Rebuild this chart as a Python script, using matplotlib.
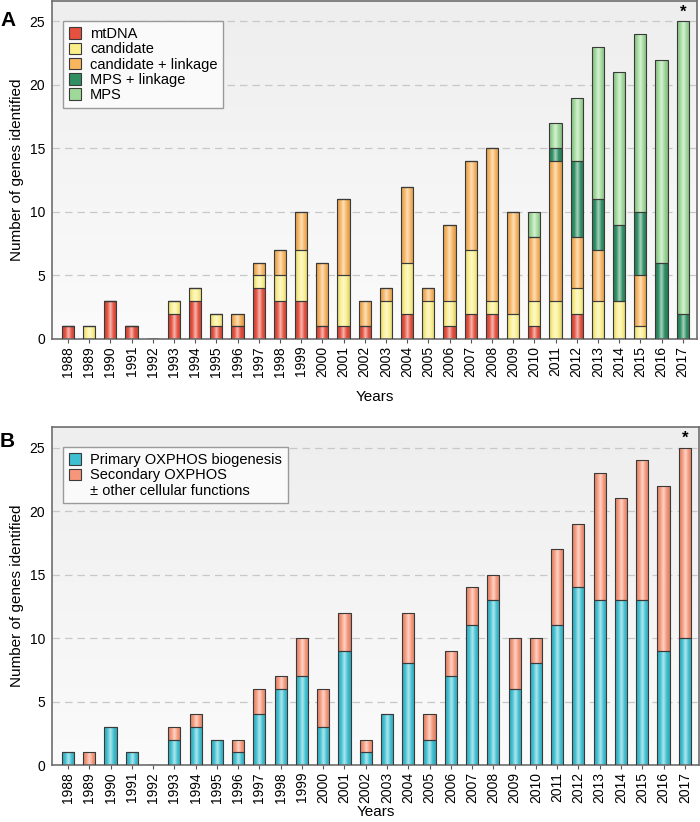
import numpy as np
import matplotlib
matplotlib.use("Agg")
import matplotlib.pyplot as plt
from matplotlib.colors import LinearSegmentedColormap, to_rgb
from matplotlib.patches import Patch

plt.rcParams['font.family'] = ['Liberation Sans', 'DejaVu Sans']

years = [str(y) for y in range(1988, 2018)]

# Panel A
mtdna =      [1,0,3,1,0,2,3,1,1,4,3,3,1,1,1,0,2,0,1,2,2,0,1,0,2,0,0,0,0,0]
candidate =  [0,1,0,0,0,1,1,1,0,1,2,4,0,4,0,3,4,3,2,5,1,2,2,3,2,3,3,1,0,0]
cand_link =  [0,0,0,0,0,0,0,0,1,1,2,3,5,6,2,1,6,1,6,7,12,8,5,11,4,4,0,4,0,0]
mps_link =   [0,0,0,0,0,0,0,0,0,0,0,0,0,0,0,0,0,0,0,0,0,0,0,1,6,4,6,5,6,2]
mps =        [0,0,0,0,0,0,0,0,0,0,0,0,0,0,0,0,0,0,0,0,0,0,2,2,5,12,12,14,16,23]
labels_a = ["mtDNA", "candidate", "candidate + linkage", "MPS + linkage", "MPS"]
colors_a = ["#e5503f", "#fbef8a", "#f8b45e", "#2f8f63", "#9fd99a"]

# Panel B
primary =   [1,0,3,1,0,2,3,2,1,4,6,7,3,9,1,4,8,2,7,11,13,6,8,11,14,13,13,13,9,10]
secondary = [0,1,0,0,0,1,1,0,1,2,1,3,3,3,1,0,4,2,2,3,2,4,2,6,5,10,8,11,13,15]
labels_b = ["Primary OXPHOS biogenesis", "Secondary OXPHOS", "\u00b1 other cellular functions"]
colors_b = ["#3fc0d2", "#f7977a"]

fig = plt.figure(figsize=(7.0, 8.22), dpi=100)
axA = fig.add_axes([0.0743, 0.5876, 0.921, 0.411])
axB = fig.add_axes([0.0743, 0.0693, 0.924, 0.411])

x = np.arange(len(years))
width = 0.57


def shade(ax, container, color):
    base = np.array(to_rgb(color))
    light = base + (1 - base) * 0.6
    dark = base * 0.85
    cmap = LinearSegmentedColormap.from_list("c", [dark, base, light, base, dark])
    grad = np.linspace(0, 1, 64).reshape(1, -1)
    for rect in container:
        h = rect.get_height()
        if h <= 0:
            continue
        x0, y0 = rect.get_x(), rect.get_y()
        im = ax.imshow(grad, extent=[x0, x0 + rect.get_width(), y0, y0 + h],
                       aspect='auto', cmap=cmap, zorder=2, interpolation='bilinear')
        im.set_clip_path(rect)
        rect.set_facecolor('none')


def bg(ax):
    g = np.linspace(0, 1, 100).reshape(-1, 1)
    cm = LinearSegmentedColormap.from_list("bg", ["#fbfbfb", "#eeeeee"])
    ax.imshow(g, extent=[0, 1, 0, 1], transform=ax.transAxes, aspect='auto',
              cmap=cm, origin='lower', zorder=0)


def style(ax, xpad):
    ax.set_xlim(-0.75, len(years) - 1 + 0.66)
    ax.set_ylim(0, 26.6)
    ax.set_yticks([0, 5, 10, 15, 20, 25])
    for yv in [5, 10, 15, 20, 25]:
        ax.axhline(yv, color='#c8c8c8', lw=0.9, ls=(0, (6, 4)), zorder=1)
    ax.set_xticks(x)
    ax.set_xticklabels(years, rotation=90, fontsize=10)
    ax.tick_params(axis='y', labelsize=10, length=0, pad=5)
    ax.tick_params(axis='x', length=3, width=0.8, color='#555555', pad=2)
    for s in ax.spines.values():
        s.set_color('#6e6e6e')
        s.set_linewidth(1.2)
    ax.set_xlabel("Years", fontsize=11, labelpad=xpad)
    ax.set_ylabel("Number of genes identified", fontsize=11, labelpad=4)


def make_legend(ax, handles):
    leg = ax.legend(handles=handles, loc='upper left', bbox_to_anchor=(0.017, 0.94),
                    fontsize=10.5, frameon=True, fancybox=False, edgecolor='#9a9a9a',
                    facecolor='#fafafa', framealpha=1, handlelength=0.85, handleheight=0.85,
                    handletextpad=0.6, labelspacing=0.08, borderpad=0.4, borderaxespad=0)
    leg.set_zorder(5)
    return leg


bg(axA)
bottom = np.zeros(len(years))
handles = []
for vals, lab, col in zip([mtdna, candidate, cand_link, mps_link, mps], labels_a, colors_a):
    cont = axA.bar(x, vals, width, bottom=bottom, color=col, edgecolor='#3a3a3a',
                   linewidth=0.8, zorder=3)
    shade(axA, cont, col)
    bottom += np.array(vals)
    handles.append(Patch(facecolor=col, edgecolor='#3a3a3a', linewidth=0.8, label=lab))
style(axA, 9)
axA.text(x[-1], bottom[-1] + 0.15, "*", ha='center', va='bottom', fontsize=12, fontweight='bold')
make_legend(axA, handles)

bg(axB)
bottom = np.zeros(len(years))
handles = []
for vals, lab, col in zip([primary, secondary], labels_b[:2], colors_b):
    cont = axB.bar(x, vals, width, bottom=bottom, color=col, edgecolor='#3a3a3a',
                   linewidth=0.8, zorder=3)
    shade(axB, cont, col)
    bottom += np.array(vals)
    handles.append(Patch(facecolor=col, edgecolor='#3a3a3a', linewidth=0.8, label=lab))
handles.append(Patch(facecolor='none', edgecolor='none', label=labels_b[2]))
style(axB, 1)
axB.text(x[-1], bottom[-1] + 0.15, "*", ha='center', va='bottom', fontsize=12, fontweight='bold')
make_legend(axB, handles)

fig.text(0.0, 0.975, "A", fontsize=15, fontweight='bold', va='center', ha='left')
fig.text(0.0, 0.463, "B", fontsize=15, fontweight='bold', va='center', ha='left')

fig.savefig("out.png", dpi=100)
